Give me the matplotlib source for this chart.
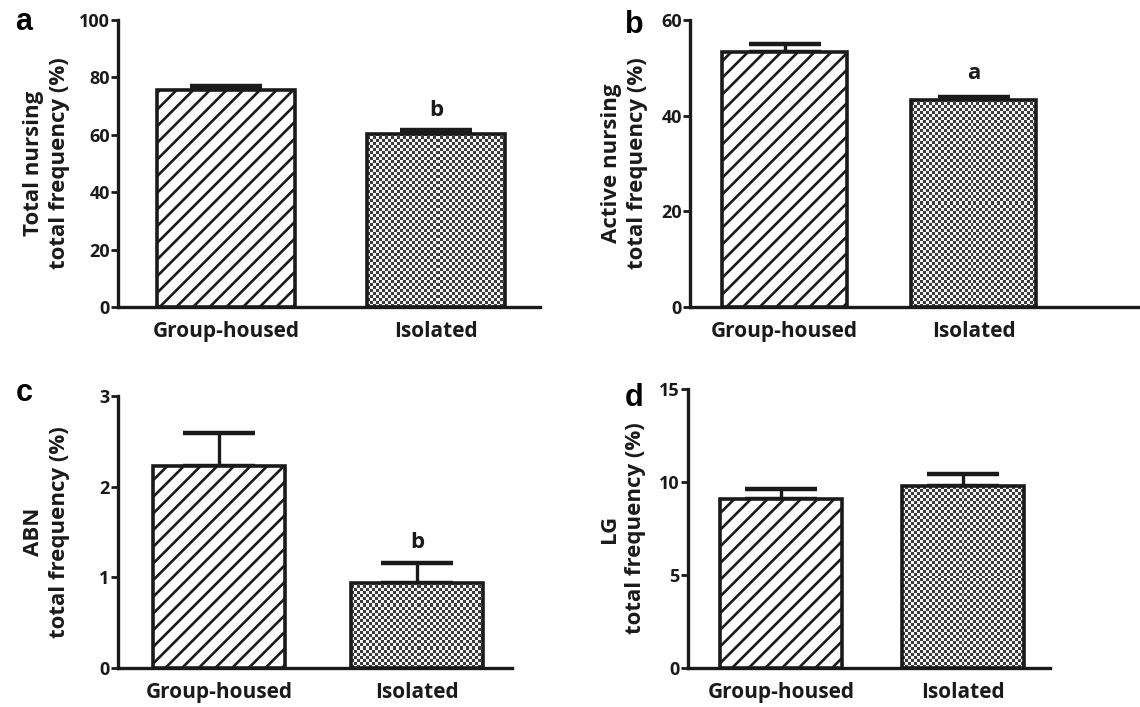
import numpy as np
import matplotlib
matplotlib.use("Agg")
from matplotlib import pyplot as plt
from matplotlib.colors import ListedColormap

# data
groups = ["Group-housed", "Isolated"]
total_nursing = [75.6, 60.3]
total_nursing_err = [1.4, 1.3]
active_nursing = [53.4, 43.3]
active_nursing_err = [1.6, 0.6]
abn = [2.23, 0.94]
abn_err = [0.36, 0.22]
lg = [9.09, 9.78]
lg_err = [0.55, 0.65]

letters = ["a", "b", "c", "d"]
ylabels = ["Total nursing\ntotal frequency (%)", "Active nursing\ntotal frequency (%)",
           "ABN\ntotal frequency (%)", "LG\ntotal frequency (%)"]
ymax = [100, 60, 3, 15]
yticks = [[0, 20, 40, 60, 80, 100], [0, 20, 40, 60], [0, 1, 2, 3], [0, 5, 10, 15]]
signif = [(1, "b", 68.5), (1, "a", 48.9), (1, "b", 1.38), None]

plt.rcParams['hatch.linewidth'] = 1.9
W, H = 1140, 707
fig = plt.figure(figsize=(W / 100, H / 100), dpi=100)

# pixel boxes: left, bottom, right, top
boxes = [(118, 307, 540, 20), (690, 307, 1140, 20), (118, 668, 512, 396), (688, 668, 1050, 389)]
xlims = [(-0.514, 1.495), (-0.5, 1.88), (-0.51, 1.48), (-0.51, 1.48)]
widths = [0.657, 0.66, 0.67, 0.67]
lab_off = [48, 42, 48, 42]
letter_pos = [(24, 22), (634, 25), (24, 393), (634, 398)]

vals = [total_nursing, active_nursing, abn, lg]
errs = [total_nursing_err, active_nursing_err, abn_err, lg_err]

ink = "#1a1a1a"
checker = ListedColormap(["#f4f4f4", "#3c3c3c"])
tickfont = dict(family=["Open Sans", "DejaVu Sans"], weight="bold", size=13)
labfont = dict(family=["Open Sans", "DejaVu Sans"], weight="bold", size=15)
yfont = dict(family=["Open Sans", "DejaVu Sans"], weight="bold", size=16)

for i in range(4):
    l, b, r, t = boxes[i]
    ax = fig.add_axes([l / W, 1 - b / H, (r - l) / W, (b - t) / H])
    x = np.arange(len(groups))
    ax.errorbar(x, vals[i], yerr=[[0, 0], errs[i]], fmt="none", ecolor=ink,
                elinewidth=2.4, capsize=26, capthick=3.2, zorder=1)
    bars = ax.bar(x, vals[i], width=widths[i], facecolor=["white", "none"],
                  edgecolor=ink, linewidth=2.6, zorder=3)
    bars[0].set_hatch("//")
    ax.set_xlim(*xlims[i])
    ax.set_ylim(0, ymax[i])

    # checkerboard fill for the isolated bar
    bb = bars[1].get_window_extent()
    ncol = max(int(round(bb.width / 3)), 1)
    nrow = max(int(round(bb.height / 3)), 1)
    yy, xx = np.indices((nrow, ncol))
    board = (yy + xx) % 2
    x0 = x[1] - widths[i] / 2
    im = ax.imshow(board, cmap=checker, vmin=0, vmax=1, interpolation="nearest",
                   extent=[x0, x0 + widths[i], 0, vals[i][1]], aspect="auto", zorder=2)
    im.set_clip_path(bars[1])
    ax.set_xlim(*xlims[i])
    ax.set_ylim(0, ymax[i])

    for s in ["top", "right"]:
        ax.spines[s].set_visible(False)
    for s in ["left", "bottom"]:
        ax.spines[s].set_linewidth(2.4)
        ax.spines[s].set_color(ink)
    ax.set_yticks(yticks[i])
    ax.set_yticklabels([str(v) for v in yticks[i]], **tickfont)
    ax.tick_params(axis="y", length=5, width=2, pad=1, colors=ink)
    ax.set_xticks(x)
    ax.set_xticklabels(groups, **labfont)
    ax.tick_params(axis="x", length=0, pad=10, colors=ink)
    ax.set_ylabel(ylabels[i], linespacing=1.3, color=ink, **yfont)
    ax.yaxis.set_label_coords(-lab_off[i] / (r - l), 0.5)

    if signif[i] is not None:
        k, txt, yv = signif[i]
        ax.text(x[k], yv, txt, ha="center", va="center", color=ink, **yfont)

    lx, ly = letter_pos[i]
    fig.text(lx / W, 1 - ly / H, letters[i], ha="center", va="center",
             fontsize=22, fontweight="bold", family="Liberation Sans", color="black")

fig.savefig("out.png", dpi=100, facecolor="white")
